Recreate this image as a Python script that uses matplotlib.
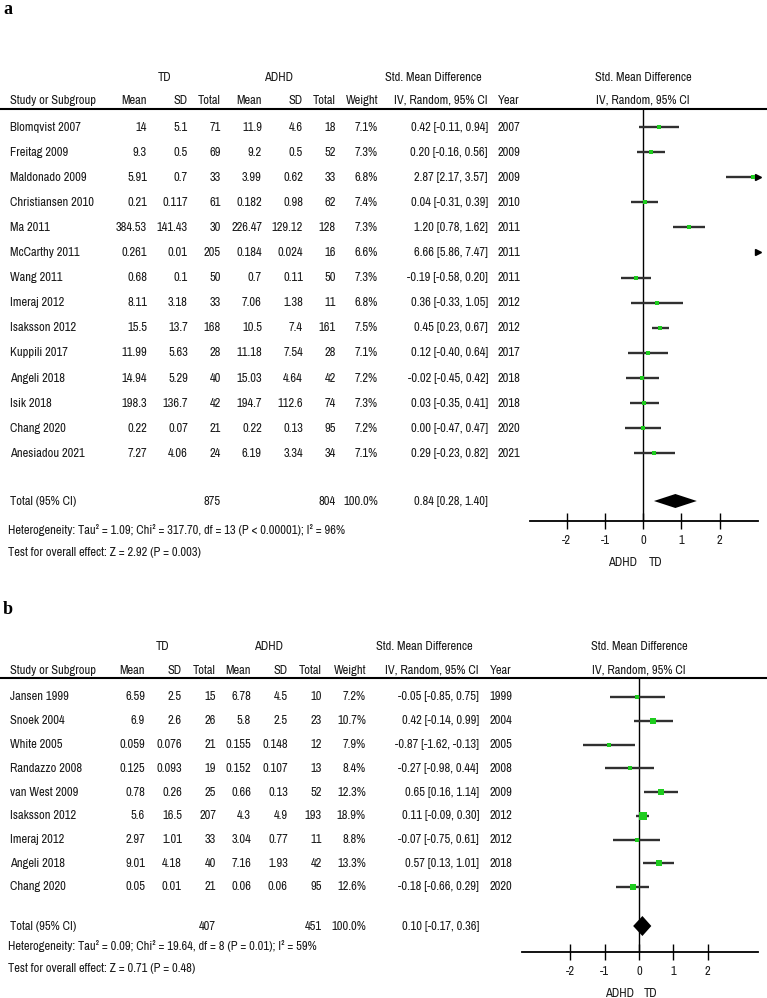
import matplotlib
matplotlib.use("Agg")
import matplotlib.pyplot as plt
from matplotlib import font_manager

# ---- panel a data ----
studies_a = ["Blomqvist 2007", "Freitag 2009", "Maldonado 2009", "Christiansen 2010", "Ma 2011",
             "McCarthy 2011", "Wang 2011", "Imeraj 2012", "Isaksson 2012", "Kuppili 2017",
             "Angeli 2018", "Isik 2018", "Chang 2020", "Anesiadou 2021"]
td_mean_a = [14, 9.3, 5.91, 0.21, 384.53, 0.261, 0.68, 8.11, 15.5, 11.99, 14.94, 198.3, 0.22, 7.27]
td_sd_a = [5.1, 0.5, 0.7, 0.117, 141.43, 0.01, 0.1, 3.18, 13.7, 5.63, 5.29, 136.7, 0.07, 4.06]
td_n_a = [71, 69, 33, 61, 30, 205, 50, 33, 168, 28, 40, 42, 21, 24]
adhd_mean_a = [11.9, 9.2, 3.99, 0.182, 226.47, 0.184, 0.7, 7.06, 10.5, 11.18, 15.03, 194.7, 0.22, 6.19]
adhd_sd_a = [4.6, 0.5, 0.62, 0.98, 129.12, 0.024, 0.11, 1.38, 7.4, 7.54, 4.64, 112.6, 0.13, 3.34]
adhd_n_a = [18, 52, 33, 62, 128, 16, 50, 11, 161, 28, 42, 74, 95, 34]
weight_a = [7.1, 7.3, 6.8, 7.4, 7.3, 6.6, 7.3, 6.8, 7.5, 7.1, 7.2, 7.3, 7.2, 7.1]
smd_a = [0.42, 0.20, 2.87, 0.04, 1.20, 6.66, -0.19, 0.36, 0.45, 0.12, -0.02, 0.03, 0.00, 0.29]
lo_a = [-0.11, -0.16, 2.17, -0.31, 0.78, 5.86, -0.58, -0.33, 0.23, -0.40, -0.45, -0.35, -0.47, -0.23]
hi_a = [0.94, 0.56, 3.57, 0.39, 1.62, 7.47, 0.20, 1.05, 0.67, 0.64, 0.42, 0.41, 0.47, 0.82]
year_a = [2007, 2009, 2009, 2010, 2011, 2011, 2011, 2012, 2012, 2017, 2018, 2018, 2020, 2021]
total_a = {"td_n": 875, "adhd_n": 804, "smd": 0.84, "lo": 0.28, "hi": 1.40}
het_a = "Heterogeneity: Tau\u00b2 = 1.09; Chi\u00b2 = 317.70, df = 13 (P < 0.00001); I\u00b2 = 96%"
test_a = "Test for overall effect: Z = 2.92 (P = 0.003)"

# ---- panel b data ----
studies_b = ["Jansen 1999", "Snoek 2004", "White 2005", "Randazzo 2008", "van West 2009",
             "Isaksson 2012", "Imeraj 2012", "Angeli 2018", "Chang 2020"]
td_mean_b = [6.59, 6.9, 0.059, 0.125, 0.78, 5.6, 2.97, 9.01, 0.05]
td_sd_b = [2.5, 2.6, 0.076, 0.093, 0.26, 16.5, 1.01, 4.18, 0.01]
td_n_b = [15, 26, 21, 19, 25, 207, 33, 40, 21]
adhd_mean_b = [6.78, 5.8, 0.155, 0.152, 0.66, 4.3, 3.04, 7.16, 0.06]
adhd_sd_b = [4.5, 2.5, 0.148, 0.107, 0.13, 4.9, 0.77, 1.93, 0.06]
adhd_n_b = [10, 23, 12, 13, 52, 193, 11, 42, 95]
weight_b = [7.2, 10.7, 7.9, 8.4, 12.3, 18.9, 8.8, 13.3, 12.6]
smd_b = [-0.05, 0.42, -0.87, -0.27, 0.65, 0.11, -0.07, 0.57, -0.18]
lo_b = [-0.85, -0.14, -1.62, -0.98, 0.16, -0.09, -0.75, 0.13, -0.66]
hi_b = [0.75, 0.99, -0.13, 0.44, 1.14, 0.30, 0.61, 1.01, 0.29]
year_b = [1999, 2004, 2005, 2008, 2009, 2012, 2012, 2018, 2020]
total_b = {"td_n": 407, "adhd_n": 451, "smd": 0.10, "lo": -0.17, "hi": 0.36}
het_b = "Heterogeneity: Tau\u00b2 = 0.09; Chi\u00b2 = 19.64, df = 8 (P = 0.01); I\u00b2 = 59%"
test_b = "Test for overall effect: Z = 0.71 (P = 0.48)"

ticks = [-2, -1, 0, 1, 2]

W, H = 767, 998
TXT = "#1a1a1a"
GREEN = "#1ecc1e"
LINE = "#303030"

# the original uses Arial Narrow; look for any narrow / condensed face, else plain Arial metrics
entries = font_manager.fontManager.ttflist
names = {f.name for f in entries}
FONT, STRETCH = "Liberation Sans", "normal"
narrow = sorted(n for n in names if "Narrow" in n or "Condensed" in n)
if "Liberation Sans Narrow" in names:
    FONT = "Liberation Sans Narrow"
elif narrow:
    FONT = narrow[0]
else:
    for fam in ["Roboto", "Noto Sans", "Open Sans", "DejaVu Sans", "Lato", "Inter"]:
        if any(f.name == fam and "condensed" in str(f.stretch) for f in entries):
            FONT, STRETCH = fam, "condensed"
            break

fig = plt.figure(figsize=(W / 100, H / 100), dpi=100)
bg = fig.add_axes([0, 0, 1, 1])
bg.set_xlim(0, W)
bg.set_ylim(H, 0)
bg.axis("off")

# size the font so the heterogeneity line is as wide as in the original (~337 px)
probe = bg.text(0, 0, het_a, fontsize=10, family=FONT, stretch=STRETCH)
pw = probe.get_window_extent(fig.canvas.get_renderer()).width
probe.remove()
FS = min(10 * 337 / pw, 10.5)


def t(x, y, s, ha="right", bold=False, size=None):
    bg.text(x, y, s, ha=ha, va="center", fontsize=size or FS, family=FONT, stretch=STRETCH,
            color=TXT, fontweight="bold" if bold else "normal")


def ci_text(e, l, h):
    return f"{e:.2f} [{l:.2f}, {h:.2f}]"


def panel(label, label_y, cols, hdr_y, row0, step, data, total, total_y, het, test,
          foot_y, fx0, fx1, xlim, axis_y, diam_h, td_c, adhd_c, smd_c):
    (studies, tm, ts, tn, am, asd, an, wt, est, lo, hi, yr) = data
    bg.text(3, label_y, label, ha="left", va="center", fontsize=13, family="Liberation Serif",
            fontweight="bold", color="black")
    # column headers
    t(td_c, hdr_y[0], "TD", ha="center")
    t(adhd_c, hdr_y[0], "ADHD", ha="center")
    t(smd_c, hdr_y[0], "Std. Mean Difference", ha="center")
    t(10, hdr_y[1], "Study or Subgroup", ha="left")
    heads = ["Mean", "SD", "Total", "Mean", "SD", "Total", "Weight", "IV, Random, 95% CI", "Year"]
    for x, h in zip(cols, heads):
        t(x, hdr_y[1], h)
    bg.plot([0, W], [hdr_y[2], hdr_y[2]], color="black", lw=1.5)

    for i, s in enumerate(studies):
        y = row0 + i * step
        t(10, y, s, ha="left")
        vals = [f"{tm[i]:g}", f"{ts[i]:g}", str(tn[i]), f"{am[i]:g}", f"{asd[i]:g}", str(an[i]),
                f"{wt[i]:.1f}%", ci_text(est[i], lo[i], hi[i]), str(yr[i])]
        for x, v in zip(cols, vals):
            t(x, y, v)

    t(10, total_y, "Total (95% CI)", ha="left", bold=True)
    t(cols[2], total_y, str(total["td_n"]), bold=True)
    t(cols[5], total_y, str(total["adhd_n"]), bold=True)
    t(cols[6], total_y, "100.0%", bold=True)
    t(cols[7], total_y, ci_text(total["smd"], total["lo"], total["hi"]), bold=True)
    t(8, foot_y[0], het, ha="left")
    t(8, foot_y[1], test, ha="left")

    # forest plot
    ax = fig.add_axes([fx0 / W, 1 - axis_y / H, (fx1 - fx0) / W, (axis_y - hdr_y[2]) / H])
    ax.set_xlim(*xlim)
    ax.set_ylim(axis_y, hdr_y[2])
    ax.patch.set_alpha(0)
    for sp in ["top", "left", "right"]:
        ax.spines[sp].set_visible(False)
    ax.spines["bottom"].set_linewidth(1.3)
    ax.axvline(0, color="black", lw=1)
    ax.set_yticks([])
    ax.set_xticks(ticks)
    ax.set_xticklabels([str(v) for v in ticks], family=FONT, stretch=STRETCH, fontsize=FS, color=TXT)
    ax.tick_params(axis="x", direction="inout", length=12, width=1, pad=4)
    xmin, xmax = xlim
    for i in range(len(studies)):
        y = row0 + i * step
        a, b = max(lo[i], xmin), min(hi[i], xmax)
        if a < b:
            ax.plot([a, b], [y, y], color=LINE, lw=1.7, solid_capstyle="butt")
        if hi[i] > xmax:
            ax.plot([xmax], [y], marker=">", color="black", ms=5, clip_on=False)
        if xmin <= est[i] <= xmax:
            ax.plot([est[i]], [y], marker="s", color=GREEN, ms=1.2 * wt[i] ** 0.5, mew=0)
    e, l, h = total["smd"], total["lo"], total["hi"]
    ax.fill([l, e, h, e], [total_y, total_y - diam_h / 2, total_y, total_y + diam_h / 2],
            color="black", lw=0)
    for x, s, ha in [(-0.15, "ADHD", "right"), (0.15, "TD", "left")]:
        ax.text(x, axis_y + 41, s, ha=ha, va="center", family=FONT, stretch=STRETCH,
                fontsize=FS, color=TXT)
    return ax


panel("a", 9, [147, 188, 221, 262, 303, 336, 378, 488, 520], (77, 100, 109), 127, 25.1,
      (studies_a, td_mean_a, td_sd_a, td_n_a, adhd_mean_a, adhd_sd_a, adhd_n_a, weight_a,
       smd_a, lo_a, hi_a, year_a), total_a, 501, het_a, test_a, (530, 553),
      530, 758, (-2.96, 3.0), 521, 14, 165, 279, 433)

panel("b", 609, [145, 182, 216, 251, 288, 322, 366, 479, 512], (647, 670, 678), 697, 23.75,
      (studies_b, td_mean_b, td_sd_b, td_n_b, adhd_mean_b, adhd_sd_b, adhd_n_b, weight_b,
       smd_b, lo_b, hi_b, year_b), total_b, 926, het_b, test_b, (946, 969),
      522, 758, (-3.41, 3.47), 952, 20, 163, 269, 424)

# right-hand headers over the forest plots
for cx, y0, y1 in [(643, 77, 100), (639, 647, 670)]:
    t(cx, y0, "Std. Mean Difference", ha="center")
    t(cx, y1, "IV, Random, 95% CI", ha="center")

fig.savefig("out.png", dpi=100)
